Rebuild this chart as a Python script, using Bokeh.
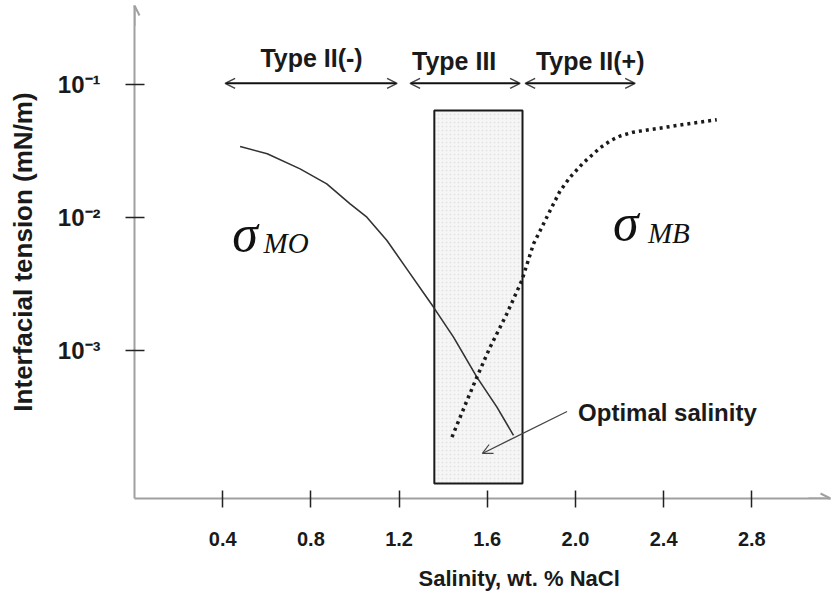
from bokeh.plotting import figure
from bokeh.models import (Range1d, FixedTicker, Arrow, OpenHead, ColumnDataSource, Title)
from bokeh.core.properties import value
from bokeh.embed import file_html
from bokeh.resources import INLINE

# ---- data ----
x_ticks = [0.4, 0.8, 1.2, 1.6, 2.0, 2.4, 2.8]
x_tick_labels = ["0.4", "0.8", "1.2", "1.6", "2.0", "2.4", "2.8"]
y_ticks = [0.1, 0.01, 0.001]
y_tick_labels = ["10\u207b\u00b9", "10\u207b\u00b2", "10\u207b\u00b3"]

# sigma_MO (solid curve)
mo_x = [0.479, 0.602, 0.751, 0.872, 0.978, 1.054, 1.145, 1.235, 1.356, 1.447, 1.553, 1.644, 1.719]
mo_y = [0.0342, 0.0301, 0.0232, 0.0179, 0.01268, 0.01005, 0.00671, 0.00411, 0.00212, 0.00126, 0.00063, 0.000375, 0.00023]

# sigma_MB (dotted curve)
mb_x = [1.440, 1.508, 1.553, 1.613, 1.689, 1.757, 1.810, 1.878, 1.930, 1.976, 2.036, 2.113, 2.160, 2.203, 2.260, 2.339, 2.490, 2.641]
mb_y = [0.000223, 0.00042, 0.00063, 0.00106, 0.00189, 0.00336, 0.00634, 0.01067, 0.0158, 0.0201, 0.0258, 0.0335, 0.0379, 0.0410, 0.0437, 0.0458, 0.0500, 0.0543]

# Type III region (optimal salinity window)
box_left, box_right = 1.36, 1.76
box_bottom, box_top = 0.0001, 0.0638

# phase-type ranges
type_names = ["Type II(-)", "Type III", "Type II(+)"]
type_start = [0.411, 1.250, 1.772]
type_end = [1.191, 1.749, 2.271]
type_label_x = [0.803, 1.450, 2.067]
type_label_y = [10 ** -0.80, 10 ** -0.82, 10 ** -0.82]

x_min, x_max = 0.0, 3.157
y_min, y_max = 10 ** -4.113, 10 ** -0.406

p = figure(width=834, height=605, y_axis_type="log",
           x_range=Range1d(x_min, x_max), y_range=Range1d(y_min, y_max),
           output_backend="svg", toolbar_location=None,
           min_border_left=134, min_border_right=4, min_border_top=5, min_border_bottom=107)
p.outline_line_color = None
p.grid.visible = False
p.background_fill_color = "white"

LABEL_FONT = "Liberation Sans"
TXT = "#1a1a1a"

# axes
for ax in (p.xaxis[0], p.yaxis[0]):
    ax.axis_line_color = "#a0a0a0"
    ax.axis_line_width = 2
    ax.major_tick_line_color = "#222222"
    ax.major_tick_line_width = 1.5
    ax.minor_tick_line_color = None
    ax.major_label_text_font = LABEL_FONT
    ax.major_label_text_font_style = "bold"
    ax.major_label_text_color = TXT
    ax.axis_label_text_font = LABEL_FONT
    ax.axis_label_text_font_style = "bold"
    ax.axis_label_text_color = TXT

xa = p.xaxis[0]
xa.ticker = FixedTicker(ticks=x_ticks)
xa.major_label_overrides = {t: s for t, s in zip(x_ticks, x_tick_labels)}
xa.major_tick_in = 8
xa.major_tick_out = 9
xa.major_label_standoff = 24
xa.major_label_text_font_size = "20px"

ya = p.yaxis[0]
ya.ticker = FixedTicker(ticks=y_ticks)
ya.major_label_overrides = {t: s for t, s in zip(y_ticks, y_tick_labels)}
ya.major_tick_in = 10
ya.major_tick_out = 9
ya.major_label_standoff = 25
ya.major_label_text_font_size = "24px"
ya.axis_label = "Interfacial tension (mN/m)"
ya.axis_label_text_font_size = "26px"
ya.axis_label_standoff = 17

# x-axis title, placed under the axis (shifted right as in the reference)
xtitle = Title(text="Salinity, wt. % NaCl", align="left", offset=284,
               text_font=LABEL_FONT, text_font_style="bold", text_font_size="22px",
               text_color=TXT)
if "standoff" in Title.properties():
    xtitle.standoff = 30
p.add_layout(xtitle, "below")

# axis arrowheads
p.add_layout(Arrow(end=OpenHead(size=10, line_color="#a0a0a0", line_width=2),
                   x_start=x_min, y_start=y_max * 0.7, x_end=x_min, y_end=y_max,
                   line_color="#a0a0a0", line_width=2))
p.add_layout(Arrow(end=OpenHead(size=10, line_color="#a0a0a0", line_width=2),
                   x_start=x_max - 0.1, y_start=y_min, x_end=x_max, y_end=y_min,
                   line_color="#a0a0a0", line_width=2))

# optimal salinity box
p.quad(left=[box_left], right=[box_right], bottom=[box_bottom], top=[box_top],
       fill_color="#f6f6f6", hatch_pattern="dot", hatch_color="#e4e4e4", hatch_scale=4,
       line_color="#1a1a1a", line_width=2)

# curves
p.line(mo_x, mo_y, line_color="#333333", line_width=1.6)
p.line(mb_x, mb_y, line_color="#1a1a1a", line_width=3.5, line_dash="3 4")

# type ranges (double arrows)
y_arrow = 0.102
for xs, xe in zip(type_start, type_end):
    p.add_layout(Arrow(start=OpenHead(size=10, line_color="#444444", line_width=1.5),
                       end=OpenHead(size=10, line_color="#444444", line_width=1.5),
                       x_start=xs, y_start=y_arrow, x_end=xe, y_end=y_arrow,
                       line_color="#111111", line_width=2))

src_types = ColumnDataSource(dict(x=type_label_x, y=type_label_y, t=type_names))
p.text(x="x", y="y", text="t", source=src_types, text_font=value(LABEL_FONT),
       text_font_style="bold", text_font_size="25px", text_align="center",
       text_baseline="alphabetic", text_color=TXT)

# sigma labels
SERIF = "Liberation Serif"
p.text(x=[0.443, 2.171], y=[10 ** -2.12, 10 ** -2.038], text=["\u03c3", "\u03c3"],
       text_font=value(SERIF), text_font_style="italic", text_font_size="52px",
       text_baseline="alphabetic", text_color="#111111")
p.text(x=[0.585, 2.329], y=[10 ** -2.195, 10 ** -2.12], text=["MO", "MB"],
       text_font=value(SERIF), text_font_style="italic", text_font_size="29px",
       text_baseline="alphabetic", text_color="#111111")

# optimal salinity annotation
p.add_layout(Arrow(end=OpenHead(size=10, line_color="#444444", line_width=1.2),
                   x_start=1.962, y_start=10 ** -3.459, x_end=1.578, y_end=10 ** -3.774,
                   line_color="#444444", line_width=1.2))
p.text(x=[2.012], y=[10 ** -3.466], text=["Optimal salinity"], text_font=value(LABEL_FONT),
       text_font_style="bold", text_font_size="24px", text_baseline="alphabetic",
       text_color=TXT)

open("out.html", "w").write(file_html(p, INLINE))
